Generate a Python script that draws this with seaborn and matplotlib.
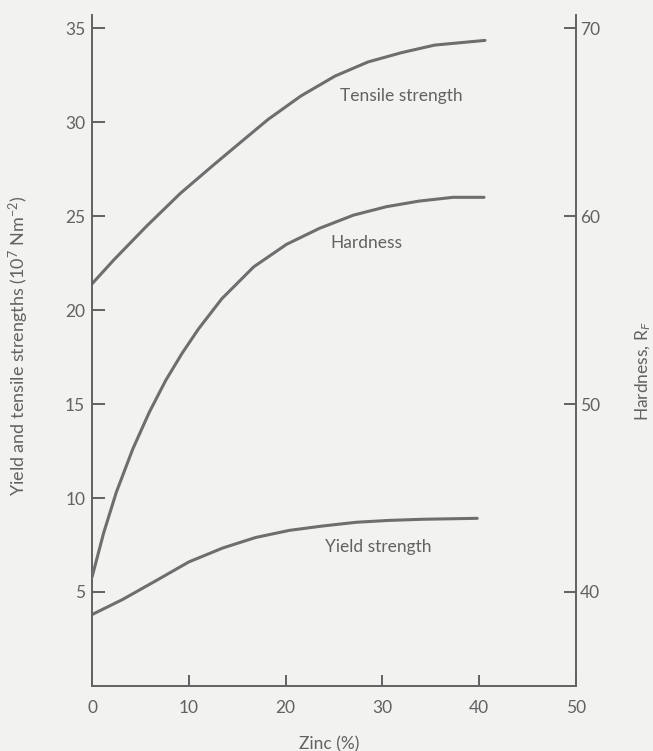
import matplotlib
matplotlib.use("Agg")
import matplotlib.pyplot as plt
import seaborn as sns
import pandas as pd

# Tensile strength of Cu-Zn alloys (10^7 N m^-2) against zinc content (%)
zinc_tensile = [0, 2.3, 5.7, 9.1, 12.5, 15.4, 18.2, 21.6, 25.1, 28.5, 32.0, 35.4, 40.6]
tensile_strength = [21.4, 22.7, 24.5, 26.2, 27.7, 28.95, 30.15, 31.4, 32.45, 33.2, 33.7, 34.1, 34.35]

# Hardness (Rockwell F) against zinc content (%)
zinc_hardness = [0, 1.2, 2.5, 4.2, 5.9, 7.6, 9.3, 11.0, 13.4, 16.7, 20.1, 23.5, 27.0, 30.4,
                 33.8, 37.3, 40.5]
hardness = [40.8, 43.15, 45.3, 47.6, 49.55, 51.25, 52.7, 54.0, 55.6, 57.3, 58.5, 59.35, 60.05,
            60.5, 60.8, 61.0, 61.0]

# Yield strength (10^7 N m^-2) against zinc content (%)
zinc_yield = [0, 3.15, 6.6, 10.0, 13.5, 16.9, 20.4, 23.8, 27.3, 30.7, 34.2, 39.8]
yield_strength = [3.8, 4.6, 5.6, 6.6, 7.34, 7.9, 8.28, 8.51, 8.71, 8.81, 8.87, 8.92]

x_ticks = [0, 10, 20, 30, 40, 50]
strength_ticks = [5, 10, 15, 20, 25, 30, 35]
hardness_ticks = [40, 50, 60, 70]

ink = "#626262"
curve = "#6e6e6e"
paper = "#f2f2f0"

sns.set_style("ticks")
plt.rcParams["font.family"] = ["Lato", "DejaVu Sans"]
plt.rcParams["mathtext.fontset"] = "custom"
plt.rcParams["mathtext.rm"] = "Lato"
plt.rcParams["mathtext.it"] = "Lato:italic"

fig = plt.figure(figsize=(6.53, 7.51), dpi=100, facecolor=paper)
ax = fig.add_axes([0.141, 0.0866, 0.741, 0.8934])
ax.set_facecolor(paper)
ax2 = ax.twinx()

df_t = pd.DataFrame({"zinc": zinc_tensile, "value": tensile_strength})
df_y = pd.DataFrame({"zinc": zinc_yield, "value": yield_strength})
df_h = pd.DataFrame({"zinc": zinc_hardness, "value": hardness})

sns.lineplot(data=df_t, x="zinc", y="value", ax=ax, color=curve, lw=2.2)
sns.lineplot(data=df_y, x="zinc", y="value", ax=ax, color=curve, lw=2.2)
sns.lineplot(data=df_h, x="zinc", y="value", ax=ax2, color=curve, lw=2.2)

y_top = 35.7
ax.set_xlim(0, 50)
ax.set_ylim(0, y_top)
ax2.set_ylim(35, 35 + y_top)

ax.set_xticks(x_ticks)
ax.set_yticks(strength_ticks)
ax2.set_yticks(hardness_ticks)

for a in (ax, ax2):
    a.spines["top"].set_visible(False)
    for s in a.spines.values():
        s.set_color(ink)
        s.set_linewidth(1.4)
ax.spines["right"].set_visible(False)
ax2.spines["left"].set_visible(False)
ax2.spines["bottom"].set_visible(False)

ax.tick_params(axis="y", direction="in", length=9, width=1.4, color=ink,
               labelcolor=ink, labelsize=12.5, pad=5)
ax.tick_params(axis="x", direction="in", length=8, width=1.4, color=ink,
               labelcolor=ink, labelsize=12.5, pad=10)
ax2.tick_params(axis="y", direction="in", length=9, width=1.4, color=ink,
                labelcolor=ink, labelsize=12.5, pad=3)

ax.set_xlabel("Zinc (%)", color=ink, fontsize=12.5)
ax.xaxis.set_label_coords(0.49, -0.075)
ax.set_ylabel("Yield and tensile strengths (10$^7$ Nm$^{-2}$)", color=ink, fontsize=13)
ax.yaxis.set_label_coords(-0.126, 0.507)
ax2.set_ylabel("Hardness, R$_F$", color=ink, fontsize=12.5)
ax2.yaxis.set_label_coords(1.12, 0.47)

ax.text(25.6, 31.4, "Tensile strength", color=ink, fontsize=12.5, ha="left", va="center")
ax2.text(24.6, 58.55, "Hardness", color=ink, fontsize=12.5, ha="left", va="center")
ax.text(24.1, 7.4, "Yield strength", color=ink, fontsize=12.5, ha="left", va="center")

fig.savefig("out.png", dpi=100, facecolor=paper)
